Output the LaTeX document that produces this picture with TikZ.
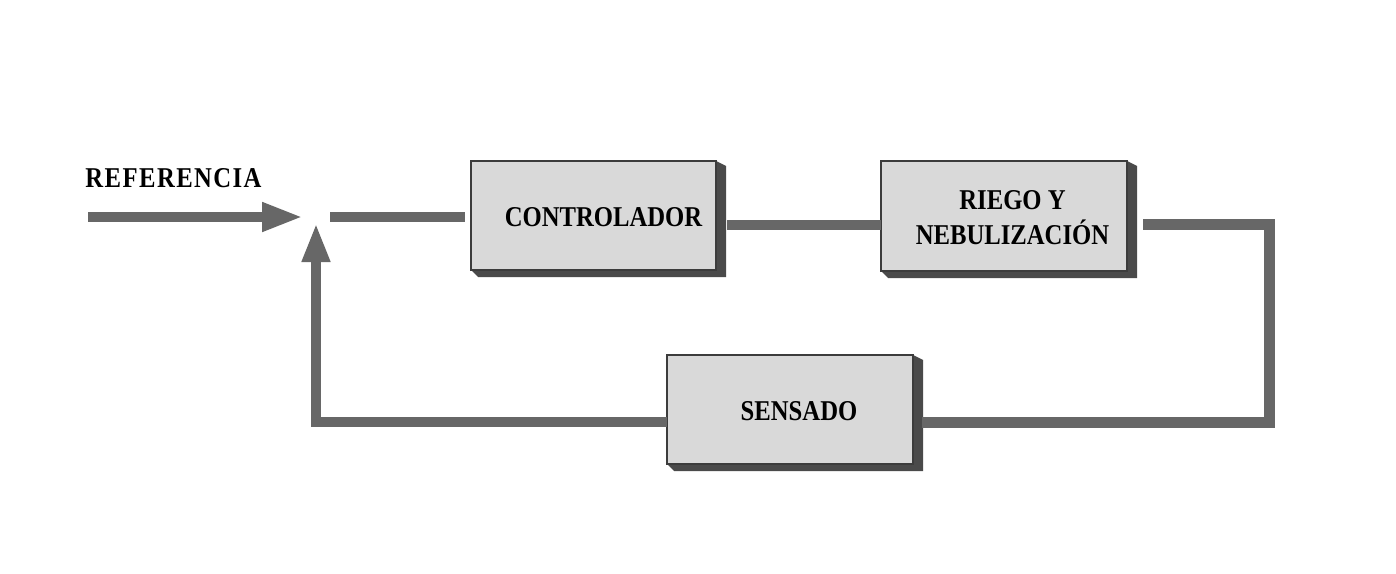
\documentclass[tikz,border=0pt]{standalone}
\usepackage{fontspec}
\newfontfamily\diafont[FakeStretch=0.86]{Liberation Serif}
\newfontfamily\diafontwide[FakeStretch=0.86,LetterSpace=5]{Liberation Serif}
\usetikzlibrary{arrows.meta,calc,backgrounds}
\definecolor{linegray}{HTML}{676767}
\definecolor{boxfill}{HTML}{D9D9D9}
\definecolor{boxedge}{HTML}{3C3C3C}
\definecolor{shadowgray}{HTML}{4A4A4A}
\begin{document}
\begin{tikzpicture}[x=1pt,y=-1pt,
  blockbox/.style={draw=boxedge, line width=1.3pt, fill=boxfill, minimum width=245pt, minimum height=109pt, inner sep=0pt, outer sep=0pt},
  lbl/.style={font=\diafont\bfseries\fontsize{28.7}{35}\selectfont, align=center, inner sep=0pt, text=black},
  conn/.style={draw=linegray, line width=10pt, line join=miter},
  tiph/.style={-{Triangle[length=41pt,width=27pt]}},
  tipv/.style={-{Triangle[length=39pt,width=26pt]}}]
\useasboundingbox (0,0) rectangle (1396,573);

% blocks
\node[blockbox] (ctrl) at (593.5,215.5) {};
\node[blockbox, minimum width=246pt, minimum height=110pt] (riego) at (1004,216) {};
\node[blockbox, minimum width=246pt] (sens) at (790,409.5) {};

% 3D sides
\begin{pgfonlayer}{background}
\foreach \b in {ctrl,riego,sens}{
  \fill[shadowgray] (\b.north east) -- ($(\b.north east)+(10,5)$) -- ($(\b.south east)+(10,7)$)
     -- ($(\b.south west)+(7,7)$) -- (\b.south west) -- cycle;
}
\end{pgfonlayer}

% labels
\node[lbl] (ctrltxt) at (603.5,217.5) {CONTROLADOR};
\node[lbl] (riegotxt) at (1012.5,218) {RIEGO Y\\NEBULIZACIÓN};
\node[lbl] (senstxt) at (799,411) {SENSADO};
\node[lbl, font=\diafontwide\bfseries\fontsize{28.7}{35}\selectfont] (reftxt) at (173.5,178) {REFERENCIA};

% coordinates
\coordinate (refin) at (88,217);
\coordinate (sum) at (316,217);
\coordinate (mid) at (0,225);
\coordinate (rloop) at (1269,224);
\coordinate (fb) at (0,422);

% connectors
\draw[conn,tiph] (refin) -- ([xshift=-13pt]sum);
\draw[conn] ([xshift=14pt]sum) -- ([xshift=-6pt]ctrl.west |- sum);
\draw[conn] ([xshift=11pt]ctrl.east |- mid) -- (riego.west |- mid);
\draw[conn, line width=11pt] ([xshift=16pt]riego.east |- rloop) -- (rloop) -- (rloop |- fb) -- ([xshift=9pt]sens.east |- fb);
\draw[conn,tipv] (sens.west |- fb) -- (sum |- fb) -- ([yshift=-6pt]sum);
\end{tikzpicture}
\end{document}
